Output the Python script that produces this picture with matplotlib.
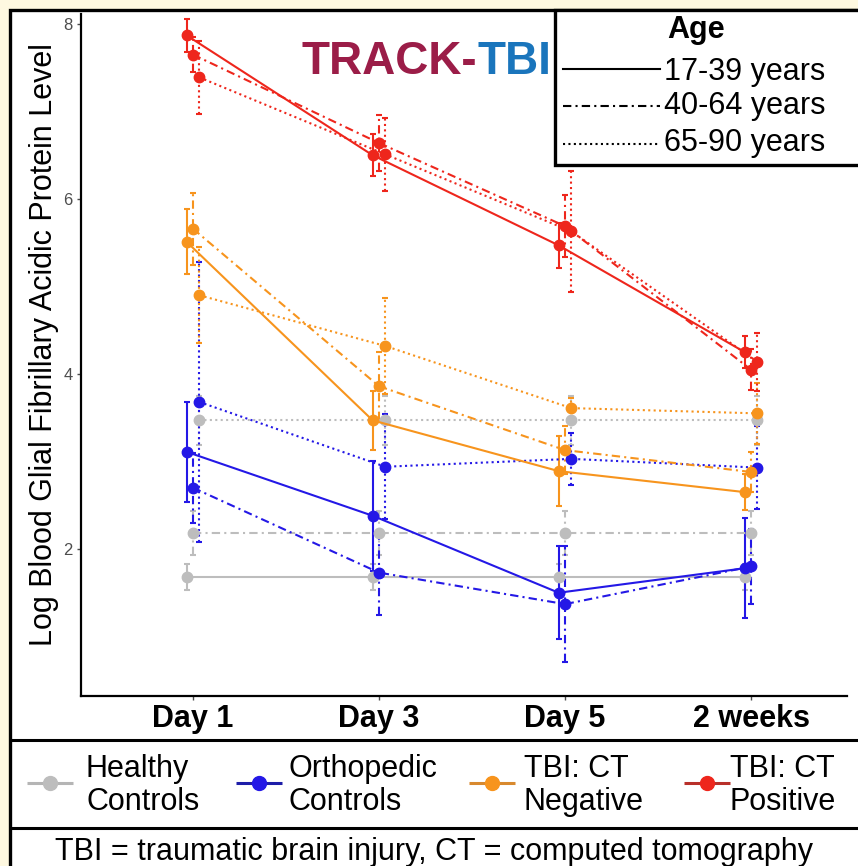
import matplotlib as mpl, matplotlib.pyplot as plt
from matplotlib.patches import Rectangle
from matplotlib.lines import Line2D

CREAM = "#FEF8E0"; INK = "#000000"; TICK = "#4D4D4D"
mpl.rcParams.update({"font.family": ["Liberation Sans", "DejaVu Sans"],
                     "figure.facecolor": CREAM, "savefig.facecolor": CREAM})

# ---- data ----
times = ["Day 1", "Day 3", "Day 5", "2 weeks"]
ages = ["17-39 years", "40-64 years", "65-90 years"]
group_line1 = ["Healthy", "Orthopedic", "TBI: CT", "TBI: CT"]
group_line2 = ["Controls", "Controls", "Negative", "Positive"]

hc_mean = [[1.68, 1.68, 1.68, 1.68], [2.18, 2.18, 2.18, 2.18], [3.47, 3.47, 3.47, 3.47]]
hc_err = [[0.15, 0.15, 0.15, 0.15], [0.25, 0.25, 0.25, 0.25], [0.28, 0.28, 0.28, 0.28]]
oc_mean = [[3.11, 2.38, 1.50, 1.78], [2.70, 1.73, 1.37, 1.80], [3.68, 2.94, 3.03, 2.93]]
oc_err = [[0.57, 0.63, 0.53, 0.57], [0.40, 0.48, 0.66, 0.43], [1.60, 0.60, 0.30, 0.47]]
cn_mean = [[5.51, 3.47, 2.89, 2.65], [5.66, 3.86, 3.13, 2.88], [4.90, 4.32, 3.61, 3.55]]
cn_err = [[0.37, 0.34, 0.40, 0.21], [0.41, 0.39, 0.27, 0.23], [0.55, 0.55, 0.12, 0.35]]
cp_mean = [[7.87, 6.50, 5.47, 4.25], [7.65, 6.64, 5.69, 4.05], [7.39, 6.51, 5.63, 4.14]]
cp_err = [[0.19, 0.24, 0.26, 0.18], [0.20, 0.32, 0.35, 0.23], [0.42, 0.42, 0.69, 0.33]]

# ---- styles ----
g_means = [hc_mean, oc_mean, cn_mean, cp_mean]
g_errs = [hc_err, oc_err, cn_err, cp_err]
g_cols = ["#BDBDBD", "#2418E6", "#F7941D", "#EE261C"]
g_keyline = ["#B5B5B5", "#1E1EA8", "#D8892E", "#B8302A"]
age_ls = ["-", (0, (4, 2, 1, 2)), (0, (1, 1.6))]
dodge = [-0.034, 0.0, 0.034]

fig = plt.figure(figsize=(8.58, 8.66), dpi=100)

# background panel (pixel coords)
bg = fig.add_axes([0, 0, 1, 1], zorder=-1)
bg.set_xlim(0, 858); bg.set_ylim(866, 0); bg.axis("off")
bg.add_patch(Rectangle((10, 10), 900, 900, fc="white", ec=INK, lw=2.4))
for yy in (740, 828):
    bg.plot([10, 858], [yy, yy], color=INK, lw=2.2, solid_capstyle="butt")

# ---- main plot ----
ax = fig.add_axes([81/858, 1 - 696/866, 766/858, 682/866], zorder=1)
ax.set_facecolor("none")
x = list(range(1, len(times) + 1))
for means, errs, col in zip(g_means, g_errs, g_cols):
    for a in range(len(ages)):
        xs = [v + dodge[a] for v in x]
        eb = ax.errorbar(xs, means[a], yerr=errs[a], color=col, lw=1.5, ls=age_ls[a],
                         marker="o", ms=7.5, mec=col, mfc=col, elinewidth=1.5,
                         capsize=2.2, capthick=1.5)
        eb[2][0].set_linestyle(age_ls[a])

ax.set_xlim(0.398, 4.516); ax.set_ylim(0.32, 8.114)
ax.set_xticks(x); ax.set_xticklabels(times, fontsize=22, fontweight="bold", color=INK)
ax.set_yticks([2, 4, 6, 8]); ax.set_yticklabels(["2", "4", "6", "8"], fontsize=12, color=TICK)
ax.tick_params(axis="y", length=3, width=1, color=TICK, pad=3)
ax.tick_params(axis="x", length=3, width=1, color=TICK, pad=3)
for s in ["top", "right"]:
    ax.spines[s].set_visible(False)
for s in ["left", "bottom"]:
    ax.spines[s].set_color(INK); ax.spines[s].set_linewidth(1.6)

bg.text(44, 345, "Log Blood Glial Fibrillary Acidic Protein Level", rotation=90,
        ha="center", va="center", fontsize=22, color=INK)

# ---- overlay: title logo and Age legend ----
ov = fig.add_axes([0, 0, 1, 1], zorder=5)
ov.set_xlim(0, 858); ov.set_ylim(866, 0); ov.axis("off")
ov.text(477, 74, "TRACK-", ha="right", va="baseline", fontsize=33, fontweight="bold",
        color="#9B1D48")
ov.text(478, 74, "TBI", ha="left", va="baseline", fontsize=33, fontweight="bold",
        color="#1A75BC")

ov.add_patch(Rectangle((555, 10), 400, 155, fc="white", ec=INK, lw=2.4))
ov.text(696, 38, "Age", ha="center", va="baseline", fontsize=22, fontweight="bold")
for i, (lab, ls) in enumerate(zip(ages, age_ls)):
    ly = [69, 106, 144][i]
    ov.add_line(Line2D([563, 660], [ly, ly], color=INK, lw=1.5, ls=ls))
    ov.text(664, [80, 114, 151][i], lab, ha="left", va="baseline", fontsize=22)

# ---- bottom group legend ----
key_x = [50, 259, 492, 707]
txt_x = [86, 288, 524, 730]
for i in range(4):
    bg.plot([key_x[i] - 23, key_x[i] + 23], [783, 783], color=g_keyline[i], lw=2.2,
            solid_capstyle="butt")
    bg.plot([key_x[i]], [783], marker="o", ms=10, color=g_cols[i], mec=g_cols[i])
    bg.text(txt_x[i], 777, group_line1[i], ha="left", va="baseline", fontsize=22)
    bg.text(txt_x[i], 810, group_line2[i], ha="left", va="baseline", fontsize=22)

bg.text(434, 860, "TBI = traumatic brain injury, CT = computed tomography",
        ha="center", va="baseline", fontsize=22)

fig.savefig("out.png", dpi=100)
